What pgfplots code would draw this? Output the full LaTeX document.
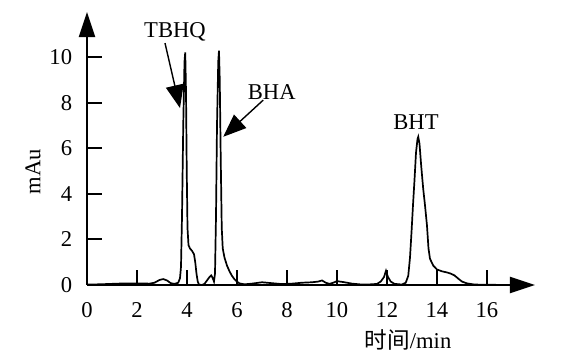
\documentclass[border=0pt]{standalone}
\usepackage{fontspec}
\setmainfont{Liberation Serif}
\newfontfamily\cjk{Noto Sans CJK SC}
\usepackage{pgfplots}
\pgfplotsset{compat=1.18}
\usetikzlibrary{arrows.meta}
\begin{document}
\fontsize{11.3}{13.5}\selectfont
\begin{tikzpicture}
\path[use as bounding box] (0,0) rectangle (287.5pt,179.5pt);
\begin{axis}[
  at={(43.5pt,37pt)}, anchor=south west,
  x=12.5pt, y=11.4pt,
  xmin=0, xmax=17.92, ymin=0, ymax=11.97,
  axis x line=bottom, axis y line=left,
  axis line style={line width=1pt, -{Triangle[length=12.5pt,width=8pt]}},
  xtick={0,2,...,16}, ytick={0,2,...,10},
  tick align=inside, major tick length=7.5pt,
  tick style={line width=1pt, black},
  /pgf/number format/assume math mode=true,
  xticklabel style={yshift=-5pt},
  yticklabel style={xshift=-3.5pt},
  clip=false,
]
\addplot[black, line width=0.85pt] coordinates {
(0,0.02) (0.5,0.03) (1,0.05) (1.5,0.07) (2,0.07) (2.5,0.06) (2.7,0.1) (2.9,0.22) (3.05,0.26) (3.2,0.2) (3.35,0.08) (3.5,0.05) (3.65,0.1) (3.72,0.3) (3.76,0.8) (3.8,3) (3.85,7) (3.9,9.8) (3.93,10.2) (3.96,8.5) (3.99,5) (4.02,2.5) (4.06,1.75) (4.12,1.6) (4.2,1.5) (4.28,1.35) (4.33,1.0) (4.38,0.5) (4.43,0.15) (4.48,0.02) (4.6,0.0) (4.7,0.05) (4.8,0.2) (4.9,0.35) (4.97,0.42) (5.03,0.3) (5.08,0.15) (5.12,0.5) (5.16,3) (5.2,7) (5.25,9.8) (5.28,10.28) (5.31,9) (5.35,5.5) (5.39,2.5) (5.43,1.6) (5.5,1.2) (5.6,0.85) (5.7,0.6) (5.8,0.4) (5.9,0.25) (6.0,0.15) (6.1,0.07) (6.3,0.03) (6.6,0.06) (7.0,0.12) (7.4,0.08) (7.8,0.04) (8.2,0.06) (8.6,0.1) (9.0,0.12) (9.25,0.15) (9.4,0.2) (9.55,0.1) (9.7,0.05) (9.85,0.1) (10.0,0.17) (10.3,0.12) (10.6,0.06) (11.0,0.02) (11.4,0.03) (11.6,0.05) (11.75,0.15) (11.88,0.35) (11.96,0.62) (12.04,0.35) (12.15,0.15) (12.3,0.05) (12.6,0.02) (12.75,0.1) (12.85,0.4) (12.92,1.2) (12.98,2.3) (13.04,3.5) (13.1,4.6) (13.16,5.8) (13.22,6.4) (13.25,6.5) (13.3,6.2) (13.37,5.2) (13.45,4.2) (13.52,3.5) (13.6,2.6) (13.66,1.6) (13.72,1.15) (13.85,0.85) (14.0,0.68) (14.2,0.6) (14.4,0.55) (14.55,0.5) (14.7,0.42) (14.85,0.28) (15.0,0.15) (15.2,0.07) (15.5,0.02) (16.0,0.01) (17.0,0.0)
};
\node at (axis cs:3.52,11.11) {TBHQ};
\node at (axis cs:7.39,8.48) {BHA};
\node at (axis cs:13.16,7.16) {BHT};
\draw[line width=0.7pt, -{Triangle[length=11.5pt,width=9pt]}] (axis cs:3.12,10.61) -- (axis cs:3.72,7.76);
\draw[line width=0.7pt, -{Triangle[length=11.5pt,width=9pt]}] (axis cs:7.05,8.11) -- (axis cs:5.45,6.5);
\node[rotate=90] at (axis cs:-2.16,4.97) {mAu};
\node at (axis cs:12.84,-2.41) {{\cjk 时间}/min};
\end{axis}
\end{tikzpicture}
\end{document}
